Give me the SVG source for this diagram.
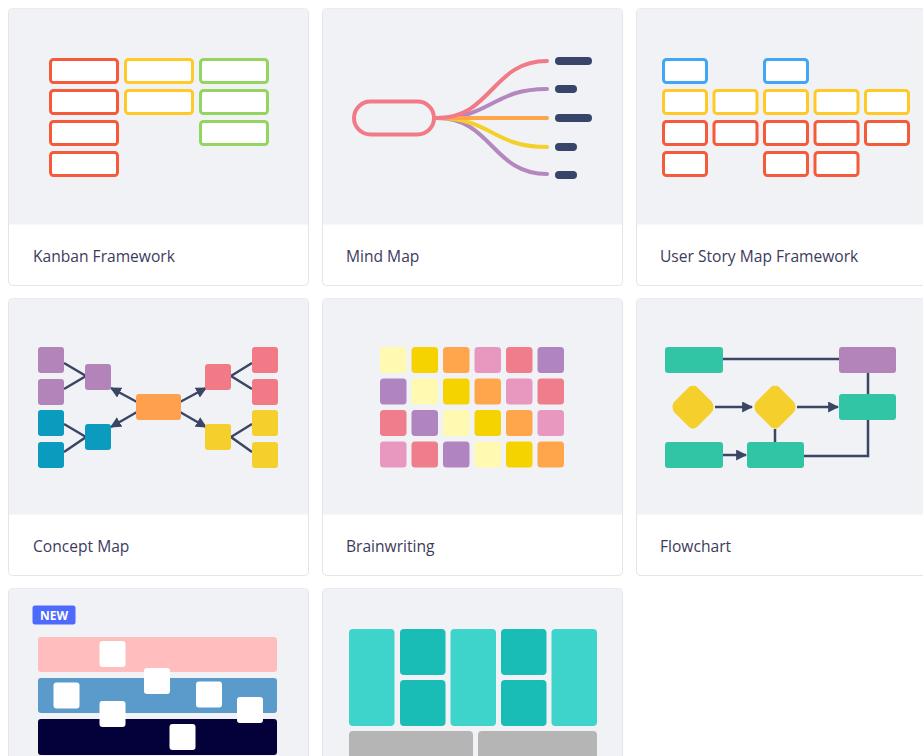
<svg xmlns="http://www.w3.org/2000/svg" width="923" height="756" viewBox="0 0 923 756">
<style>
.card{fill:#fff;stroke:#e3e5ea;stroke-width:1}
.img{fill:#f1f2f6}
.lbl{font-family:"Open Sans","Noto Sans",sans-serif;font-size:15.6px;fill:#3d3b5c}
.kb{fill:#fff;stroke-width:3}
.red{stroke:#f55b3b}.yel{stroke:#ffc928}.grn{stroke:#93d55f}.blu{stroke:#41a6f4}
.ln{stroke:#3a4664;stroke-width:2.5;fill:none}
.br{fill:none;stroke-width:4;stroke-linecap:round}
.bar{stroke:#38456a;stroke-width:8;stroke-linecap:round}
.ly{fill:#fff9b1}.yy{fill:#f5d300}.oo{fill:#ffa64d}.pk{fill:#e897be}.rp{fill:#ef7d8b}.pu{fill:#b084be}
.ws{fill:#fff}
</style>
<defs>
<marker id="ah" viewBox="0 0 10 10" refX="9" refY="5" markerWidth="4.4" markerHeight="4.4" orient="auto" markerUnits="strokeWidth">
<path d="M0,0 L10,5 L0,10 z" fill="#3a4664"/>
</marker>
</defs>
<rect width="923" height="756" fill="#fff"/>

<!-- Card 1: Kanban -->
<g id="kanban">
<rect class="card" x="8.5" y="8.5" width="300" height="277" rx="4"/>
<path class="img" d="M9,224.5 V12.5 a4,4 0 0 1 4,-4 H304 a4,4 0 0 1 4,4 V224.5 z"/>
<g>
<rect class="kb red" x="50.5" y="59.5" width="67" height="23" rx="3"/>
<rect class="kb red" x="50.5" y="90.5" width="67" height="23" rx="3"/>
<rect class="kb red" x="50.5" y="121.5" width="67" height="23" rx="3"/>
<rect class="kb red" x="50.5" y="152.5" width="67" height="23" rx="3"/>
<rect class="kb yel" x="125.5" y="59.5" width="67" height="23" rx="3"/>
<rect class="kb yel" x="125.5" y="90.5" width="67" height="23" rx="3"/>
<rect class="kb grn" x="200.5" y="59.5" width="67" height="23" rx="3"/>
<rect class="kb grn" x="200.5" y="90.5" width="67" height="23" rx="3"/>
<rect class="kb grn" x="200.5" y="121.5" width="67" height="23" rx="3"/>
</g>
<text class="lbl" x="33" y="262">Kanban Framework</text>
</g>

<!-- Card 2: Mind Map -->
<g id="mindmap">
<rect class="card" x="322.5" y="8.5" width="300" height="277" rx="4"/>
<path class="img" d="M323,224.5 V12.5 a4,4 0 0 1 4,-4 H618 a4,4 0 0 1 4,4 V224.5 z"/>
<path class="br" stroke="#b587bf" d="M437,118 C492,118 492,174 547,174"/>
<path class="br" stroke="#f5d02d" d="M437,118 C492,118 492,147 547,147"/>
<path class="br" stroke="#b587bf" d="M437,118 C492,118 492,89 547,89"/>
<path class="br" stroke="#ffa64d" d="M437,118 H547"/>
<path class="br" stroke="#f27a87" d="M437,118 C492,118 492,61 547,61"/>
<rect x="354" y="101.5" width="80" height="33" rx="16.5" fill="none" stroke="#f27a87" stroke-width="4"/>
<line class="bar" x1="559" y1="61" x2="588" y2="61"/>
<line class="bar" x1="559" y1="89" x2="573" y2="89"/>
<line class="bar" x1="559" y1="118" x2="588" y2="118"/>
<line class="bar" x1="559" y1="147" x2="573" y2="147"/>
<line class="bar" x1="559" y1="175" x2="573" y2="175"/>
<text class="lbl" x="346" y="262">Mind Map</text>
</g>

<!-- Card 3: User Story Map -->
<g id="userstory">
<rect class="card" x="636.5" y="8.5" width="300" height="277" rx="4"/>
<path class="img" d="M637,224.5 V12.5 a4,4 0 0 1 4,-4 H936 V224.5 z"/>
<rect class="kb blu" x="663.5" y="59.5" width="43" height="23" rx="3"/>
<rect class="kb blu" x="764.5" y="59.5" width="43" height="23" rx="3"/>
<rect class="kb yel" x="663.5" y="90.5" width="43" height="23" rx="3"/>
<rect class="kb yel" x="714" y="90.5" width="43" height="23" rx="3"/>
<rect class="kb yel" x="764.5" y="90.5" width="43" height="23" rx="3"/>
<rect class="kb yel" x="815" y="90.5" width="43" height="23" rx="3"/>
<rect class="kb yel" x="865.5" y="90.5" width="43" height="23" rx="3"/>
<rect class="kb red" x="663.5" y="121.5" width="43" height="23" rx="3"/>
<rect class="kb red" x="714" y="121.5" width="43" height="23" rx="3"/>
<rect class="kb red" x="764.5" y="121.5" width="43" height="23" rx="3"/>
<rect class="kb red" x="815" y="121.5" width="43" height="23" rx="3"/>
<rect class="kb red" x="865.5" y="121.5" width="43" height="23" rx="3"/>
<rect class="kb red" x="663.5" y="152.5" width="43" height="23" rx="3"/>
<rect class="kb red" x="764.5" y="152.5" width="43" height="23" rx="3"/>
<rect class="kb red" x="815" y="152.5" width="43" height="23" rx="3"/>
<text class="lbl" x="660" y="262">User Story Map Framework</text>
</g>

<!-- Card 4: Concept Map -->
<g id="conceptmap">
<rect class="card" x="8.5" y="298.5" width="300" height="277" rx="4"/>
<path class="img" d="M9,514.5 V302.5 a4,4 0 0 1 4,-4 H304 a4,4 0 0 1 4,4 V514.5 z"/>
<g class="ln">
<path d="M64,363 L86,376 L64,389"/>
<path d="M64,424 L86,437 L64,452"/>
<path d="M252,363 L231,376 L252,389"/>
<path d="M252,424 L231,437 L252,452"/>
<path d="M137,402 L111,388" marker-end="url(#ah)"/>
<path d="M137,412 L111,427" marker-end="url(#ah)"/>
<path d="M180,402 L206,388" marker-end="url(#ah)"/>
<path d="M180,412 L206,427" marker-end="url(#ah)"/>
</g>
<g>
<rect x="38" y="347" width="26" height="26" rx="3" fill="#b384ba"/>
<rect x="38" y="379" width="26" height="26" rx="3" fill="#b384ba"/>
<rect x="38" y="410" width="26" height="26" rx="3" fill="#0a9bbf"/>
<rect x="38" y="442" width="26" height="26" rx="3" fill="#0a9bbf"/>
<rect x="85" y="364" width="26" height="26" rx="3" fill="#b384ba"/>
<rect x="85" y="424" width="26" height="26" rx="3" fill="#0a9bbf"/>
<rect x="136" y="394" width="45" height="26" rx="3" fill="#ffa04f"/>
<rect x="205" y="364" width="26" height="26" rx="3" fill="#f27a87"/>
<rect x="205" y="424" width="26" height="26" rx="3" fill="#f5d02d"/>
<rect x="252" y="347" width="26" height="26" rx="3" fill="#f27a87"/>
<rect x="252" y="379" width="26" height="26" rx="3" fill="#f27a87"/>
<rect x="252" y="410" width="26" height="26" rx="3" fill="#f5d02d"/>
<rect x="252" y="442" width="26" height="26" rx="3" fill="#f5d02d"/>
</g>
<text class="lbl" x="33" y="552">Concept Map</text>
</g>

<!-- Card 5: Brainwriting -->
<g id="brainwriting">
<rect class="card" x="322.5" y="298.5" width="300" height="277" rx="4"/>
<path class="img" d="M323,514.5 V302.5 a4,4 0 0 1 4,-4 H618 a4,4 0 0 1 4,4 V514.5 z" fill="#eff0f4"/>
<rect class="ly" x="380" y="347" width="26.5" height="26" rx="3.5"/>
<rect class="yy" x="411.5" y="347" width="26.5" height="26" rx="3.5"/>
<rect class="oo" x="443" y="347" width="26.5" height="26" rx="3.5"/>
<rect class="pk" x="474.5" y="347" width="26.5" height="26" rx="3.5"/>
<rect class="rp" x="506" y="347" width="26.5" height="26" rx="3.5"/>
<rect class="pu" x="537.5" y="347" width="26.5" height="26" rx="3.5"/>
<rect class="pu" x="380" y="378.5" width="26.5" height="26" rx="3.5"/>
<rect class="ly" x="411.5" y="378.5" width="26.5" height="26" rx="3.5"/>
<rect class="yy" x="443" y="378.5" width="26.5" height="26" rx="3.5"/>
<rect class="oo" x="474.5" y="378.5" width="26.5" height="26" rx="3.5"/>
<rect class="pk" x="506" y="378.5" width="26.5" height="26" rx="3.5"/>
<rect class="rp" x="537.5" y="378.5" width="26.5" height="26" rx="3.5"/>
<rect class="rp" x="380" y="410" width="26.5" height="26" rx="3.5"/>
<rect class="pu" x="411.5" y="410" width="26.5" height="26" rx="3.5"/>
<rect class="ly" x="443" y="410" width="26.5" height="26" rx="3.5"/>
<rect class="yy" x="474.5" y="410" width="26.5" height="26" rx="3.5"/>
<rect class="oo" x="506" y="410" width="26.5" height="26" rx="3.5"/>
<rect class="pk" x="537.5" y="410" width="26.5" height="26" rx="3.5"/>
<rect class="pk" x="380" y="441.5" width="26.5" height="26" rx="3.5"/>
<rect class="rp" x="411.5" y="441.5" width="26.5" height="26" rx="3.5"/>
<rect class="pu" x="443" y="441.5" width="26.5" height="26" rx="3.5"/>
<rect class="ly" x="474.5" y="441.5" width="26.5" height="26" rx="3.5"/>
<rect class="yy" x="506" y="441.5" width="26.5" height="26" rx="3.5"/>
<rect class="oo" x="537.5" y="441.5" width="26.5" height="26" rx="3.5"/>
<text class="lbl" x="346" y="552">Brainwriting</text>
</g>

<!-- Card 6: Flowchart -->
<g id="flowchart">
<rect class="card" x="636.5" y="298.5" width="300" height="277" rx="4"/>
<path class="img" d="M637,514.5 V302.5 a4,4 0 0 1 4,-4 H936 V514.5 z"/>
<g class="ln">
<path d="M723,359 H839"/>
<path d="M868,373 V394"/>
<path d="M775,429 V442"/>
<path d="M804,456 H868 V420"/>
<path d="M715,407 H752" marker-end="url(#ah)"/>
<path d="M797,407 H838" marker-end="url(#ah)"/>
<path d="M723,455 H746" marker-end="url(#ah)"/>
</g>
<rect x="665" y="347" width="58" height="26" rx="3" fill="#31c4a5"/>
<rect x="839" y="347" width="57" height="26" rx="3" fill="#b384ba"/>
<rect x="839" y="394" width="57" height="26" rx="3" fill="#31c4a5"/>
<rect x="665" y="442" width="58" height="26" rx="3" fill="#31c4a5"/>
<rect x="747" y="442" width="57" height="26" rx="3" fill="#31c4a5"/>
<path d="M693,386 Q695,385 697,387 L712,402 Q715,407 712,412 L697,427 Q693,430 689,427 L674,412 Q671,407 674,402 L689,387 Q691,385 693,386 z" fill="#f5d02d"/>
<path d="M775,386 Q777,385 779,387 L794,402 Q797,407 794,412 L779,427 Q775,430 771,427 L756,412 Q753,407 756,402 L771,387 Q773,385 775,386 z" fill="#f5d02d"/>
<text class="lbl" x="660" y="552">Flowchart</text>
</g>

<!-- Card 7: New template -->
<g id="swimlane">
<rect class="card" x="8.5" y="588.5" width="300" height="277" rx="4"/>
<path class="img" d="M9,760 V592.5 a4,4 0 0 1 4,-4 H304 a4,4 0 0 1 4,4 V760 z"/>
<rect x="32.5" y="605.5" width="43" height="19" rx="2.5" fill="#4e6afe"/>
<text x="54" y="620" text-anchor="middle" font-family="'Open Sans','Noto Sans',sans-serif" font-size="12" font-weight="bold" fill="#fff">NEW</text>
<rect x="38" y="637" width="239" height="35" rx="3" fill="#ffbdbd"/>
<rect x="38" y="678" width="239" height="35" rx="3" fill="#5b9bcb"/>
<rect x="38" y="719" width="239" height="36" rx="3" fill="#04003a"/>
<rect class="ws" x="99.5" y="641" width="26" height="26" rx="3"/>
<rect class="ws" x="144" y="668" width="26" height="26" rx="3"/>
<rect class="ws" x="53.5" y="682.5" width="26" height="26" rx="3"/>
<rect class="ws" x="196" y="681.5" width="26" height="26" rx="3"/>
<rect class="ws" x="99.5" y="701" width="26" height="26" rx="3"/>
<rect class="ws" x="237" y="697" width="26" height="26" rx="3"/>
<rect class="ws" x="169.5" y="724" width="26" height="26" rx="3"/>
</g>

<!-- Card 8: Layout template -->
<g id="layout">
<rect class="card" x="322.5" y="588.5" width="300" height="277" rx="4"/>
<path class="img" d="M323,760 V592.5 a4,4 0 0 1 4,-4 H618 a4,4 0 0 1 4,4 V760 z" fill="#eff0f4"/>
<rect x="349" y="629" width="45.5" height="97" rx="4" fill="#3fd4cb"/>
<rect x="400" y="629" width="45.5" height="46" rx="4" fill="#1abcb6"/>
<rect x="400" y="680" width="45.5" height="46" rx="4" fill="#1abcb6"/>
<rect x="450.5" y="629" width="45.5" height="97" rx="4" fill="#3fd4cb"/>
<rect x="501" y="629" width="45.5" height="46" rx="4" fill="#1abcb6"/>
<rect x="501" y="680" width="45.5" height="46" rx="4" fill="#1abcb6"/>
<rect x="551.5" y="629" width="45.5" height="97" rx="4" fill="#3fd4cb"/>
<rect x="349" y="731" width="124" height="30" rx="4" fill="#b5b5b5"/>
<rect x="478" y="731" width="119" height="30" rx="4" fill="#b5b5b5"/>
</g>
</svg>
